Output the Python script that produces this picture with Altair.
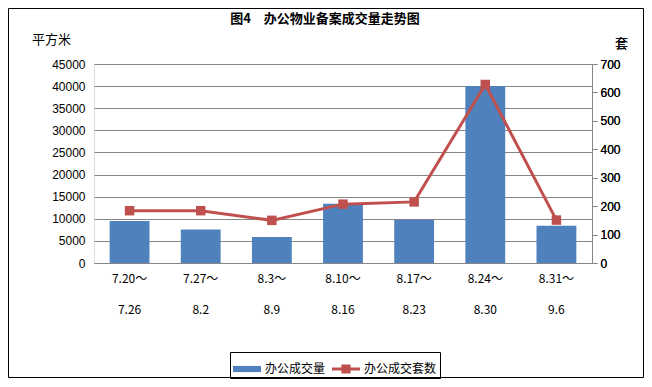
import altair as alt
import pandas as pd

# ---- data ----
categories = ["7.20～|7.26", "7.27～|8.2", "8.3～|8.9", "8.10～|8.16",
              "8.17～|8.23", "8.24～|8.30", "8.31～|9.6"]
area_values = [9500, 7600, 5900, 13400, 9800, 40000, 8400]
unit_values = [184, 184, 150, 207, 215, 628, 151]
series_names = ["办公成交量", "办公成交套数"]

df = pd.DataFrame({"week": categories, "area": area_values, "units": unit_values})
legend_df = pd.DataFrame({"series": series_names})
frame_df = pd.DataFrame({"k": [0]})

BLUE = "#4F81BD"
RED = "#C0504D"
GRID = "#868686"
CJK = "Noto Sans CJK SC"

xenc = alt.X("week:N", sort=categories,
             scale=alt.Scale(paddingInner=0.44, paddingOuter=0.22),
             axis=alt.Axis(title=None, labelAngle=0, ticks=False,
                           domainColor=GRID, labelPadding=10,
                           labelExpr="split(datum.value, '|')",
                           labelLineHeight=31, labelFont=CJK,
                           labelFontSize=12, labelColor="#000"))

bars = alt.Chart(df).mark_bar(color=BLUE).encode(
    x=xenc,
    y=alt.Y("area:Q", scale=alt.Scale(domain=[0, 45000], nice=False),
            axis=alt.Axis(title="平方米", titleAngle=0, titleX=-43, titleY=-25,
                          titleAlign="center", titleBaseline="middle",
                          titleFont=CJK, titleFontSize=13, titleFontWeight="normal",
                          titleColor="#000", format="d",
                          values=list(range(0, 45001, 5000)), domain=False,
                          ticks=False, labelPadding=9, gridColor=GRID,
                          gridOpacity=1, labelFontSize=12, labelColor="#000",
                          labelFont="Liberation Sans")),
)

ax_r = alt.Axis(title="套", orient="right", titleAngle=0, titleX=29, titleY=-21,
                titleAlign="center", titleBaseline="middle", titleFont=CJK,
                titleFontSize=13, titleFontWeight="normal", titleColor="#000",
                values=list(range(0, 701, 100)), grid=False, domainColor=GRID,
                tickColor=GRID, tickSize=5, labelPadding=3, labelFontSize=12,
                labelColor="#000", labelFont="Liberation Sans", format="d")

yr = alt.Y("units:Q", scale=alt.Scale(domain=[0, 700], nice=False), axis=ax_r)

line = alt.Chart(df).mark_line(color=RED, strokeWidth=3).encode(x=xenc, y=yr)
pts = alt.Chart(df).mark_square(color=RED, size=90, opacity=1).encode(x=xenc, y=yr)

legend_layer = alt.Chart(legend_df).mark_point(filled=True, opacity=1).encode(
    color=alt.Color("series:N", sort=series_names,
                    scale=alt.Scale(domain=series_names, range=[BLUE, RED]),
                    legend=alt.Legend(title=None, orient="none", direction="horizontal",
                                      legendX=136, legendY=288, symbolSize=784,
                                      symbolStrokeWidth=0, labelFont=CJK,
                                      labelFontSize=12, labelColor="#000",
                                      strokeColor="#000", padding=3,
                                      columnPadding=6, labelOffset=4)),
    shape=alt.Shape("series:N", sort=series_names,
                    scale=alt.Scale(domain=series_names,
                                    range=["M-1,-0.22H1V0.22H-1Z",
                                           "M-1,-0.1H1V0.1H-1Z M-0.33,-0.33H0.33V0.33H-0.33Z"])),
    size=alt.value(0),
    x=alt.value(0), y=alt.value(0),
)

frame = alt.Chart(frame_df).mark_rect(fill=None, stroke="#000", strokeWidth=1).encode(
    x=alt.value(-85.5), x2=alt.value(549.5), y=alt.value(-55.5), y2=alt.value(313.5))

chart = alt.layer(
    bars, frame, line, pts, legend_layer,
).resolve_scale(y="independent").properties(
    width=498, height=199,
    autosize=alt.AutoSizeParams(type="none"),
    padding={"left": 86, "top": 56, "right": 52, "bottom": 116},
    title=alt.TitleParams("图4　办公物业备案成交量走势图", font=CJK, fontSize=13,
                          fontWeight="bold", anchor="middle", dx=-18, offset=-18,
                          color="#000"),
).configure_view(stroke=None).configure(background="white")

chart.save("out.html", embed_options={"renderer": "svg", "actions": False})
